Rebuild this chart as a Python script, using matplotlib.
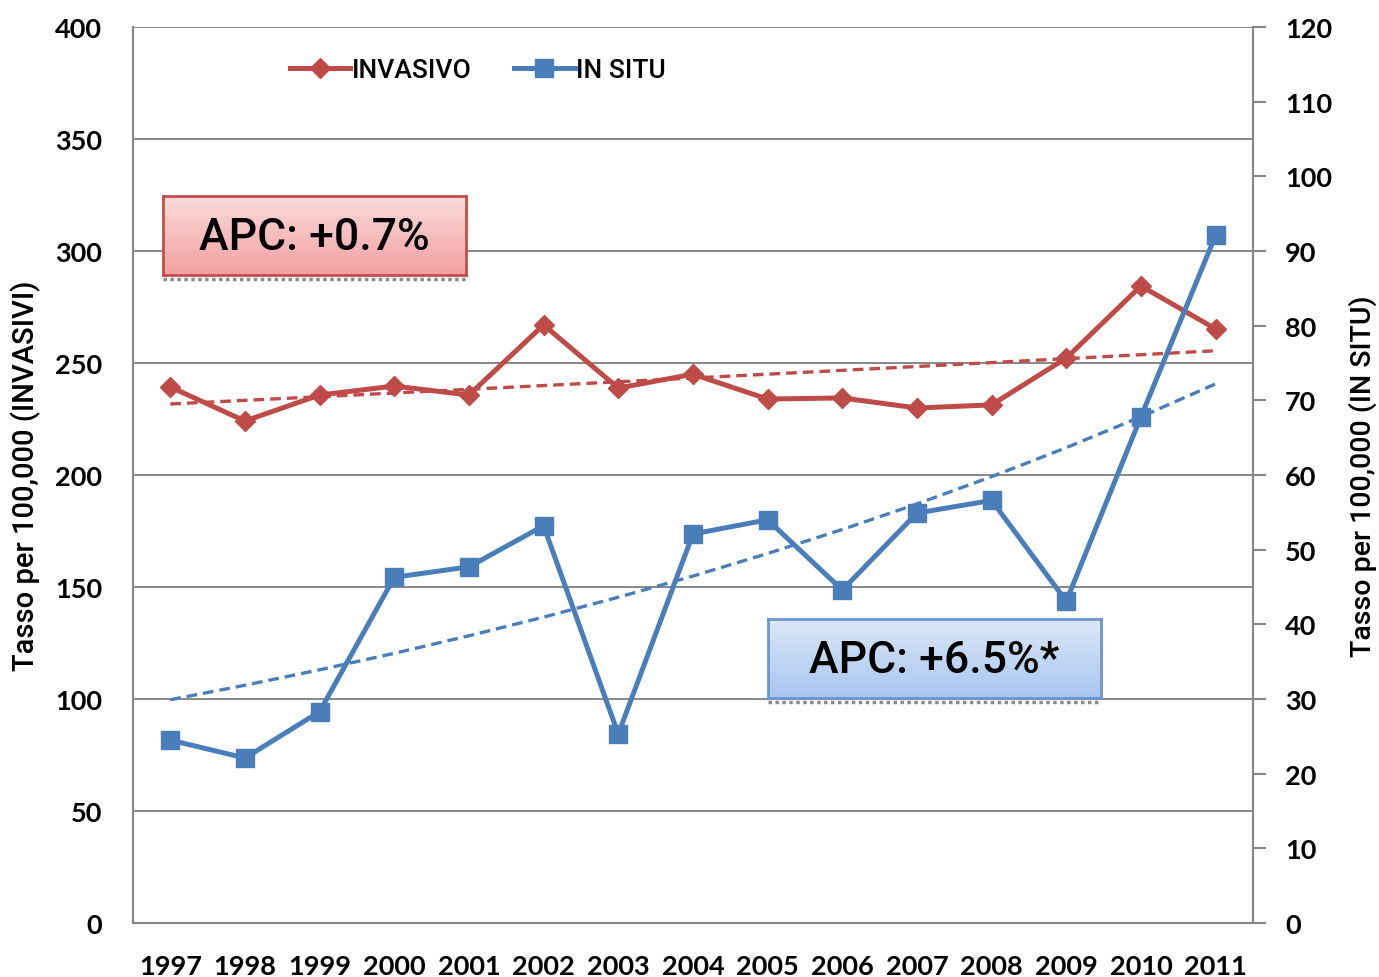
import numpy as np
import matplotlib
matplotlib.use("Agg")
import matplotlib.pyplot as plt
from matplotlib.lines import Line2D

years = ["1997", "1998", "1999", "2000", "2001", "2002", "2003", "2004",
         "2005", "2006", "2007", "2008", "2009", "2010", "2011"]
invasivo = [239.3, 224.1, 235.7, 239.7, 235.7, 267.0, 238.8, 245.0,
            233.9, 234.4, 229.9, 231.3, 252.2, 284.4, 265.2]
in_situ = [24.5, 22.1, 28.3, 46.3, 47.7, 53.2, 25.3, 52.1,
           54.0, 44.6, 54.9, 56.6, 43.1, 67.8, 92.1]
# fitted trend: value in 1997 and annual percent change
trend_start = [231.7, 29.9]
apc = [0.7, 6.5]
apc_labels = ["APC: +0.7%", "APC: +6.5%*"]

RED = "#BE4B48"
BLUE = "#4A7EBB"
GRID = "#878787"
NARROW = ["Liberation Sans Narrow", "Roboto", "DejaVu Sans"]
TICKF = ["Lato", "DejaVu Sans"]

x = np.arange(len(years))


def trend(start, pct):
    return start * (1 + pct / 100.0) ** x


fig = plt.figure(figsize=(13.79, 9.78), dpi=100)
ax = fig.add_axes([0.0964, 0.0552, 0.8122, 0.9162])
ax2 = ax.twinx()

ax.plot(x, trend(trend_start[0], apc[0]), color=RED, lw=2.4, ls=(0, (3.2, 1.8)), zorder=2)
ax.plot(x, invasivo, color=RED, lw=3.6, marker="D", ms=10, zorder=3)
ax2.plot(x, trend(trend_start[1], apc[1]), color=BLUE, lw=2.4, ls=(0, (3.2, 1.8)), zorder=2)
ax2.plot(x, in_situ, color=BLUE, lw=3.6, marker="s", ms=13, zorder=3)

ax.set_xlim(-0.5, len(years) - 0.5)
ax.set_ylim(0, 400)
ax2.set_ylim(0, 120)
ax.set_yticks(np.arange(0, 401, 50))
ax2.set_yticks(np.arange(0, 121, 10))
ax.set_xticks(x)
ax.set_xticklabels(years)
ax.yaxis.grid(True, color=GRID, lw=1.4)
ax.set_axisbelow(True)

for a in (ax, ax2):
    for s in a.spines.values():
        s.set_color(GRID)
        s.set_linewidth(1.5)
    a.spines["top"].set_visible(False)
ax2.spines["left"].set_visible(False)
ax2.spines["bottom"].set_visible(False)

ax.tick_params(axis="y", length=0, pad=22, labelsize=19.5)
ax.tick_params(axis="x", length=0, pad=22, labelsize=19.5)
ax2.tick_params(axis="y", length=9, width=1.5, color=GRID, pad=14, labelsize=19.5)
for lab in ax.get_xticklabels() + ax.get_yticklabels() + ax2.get_yticklabels():
    lab.set_family(TICKF)
    lab.set_weight("bold")

ax.set_ylabel("Tasso per 100,000 (INVASIVI)", family=NARROW, fontsize=21,
              weight="medium", labelpad=10)
ax2.set_ylabel("Tasso per 100,000 (IN SITU)", family=NARROW, fontsize=20.5,
               weight="medium", labelpad=12)

handles = [Line2D([], [], color=RED, lw=3.6, marker="D", ms=10),
           Line2D([], [], color=BLUE, lw=3.6, marker="s", ms=13)]
leg = ax.legend(handles, ["INVASIVO", "IN SITU"], loc="center left",
                bbox_to_anchor=(0.14, 0.952), ncol=2, frameon=False,
                borderpad=0, borderaxespad=0,
                handlelength=2.3, handletextpad=0.05, columnspacing=1.6,
                prop={"family": NARROW, "size": 19, "weight": "medium"})


# gradient APC boxes
def apc_box(rect, top, bottom, edge, text):
    bx = fig.add_axes(rect)
    grad = np.linspace(0, 1, 100)[:, None]
    c0 = np.array(matplotlib.colors.to_rgb(top))
    c1 = np.array(matplotlib.colors.to_rgb(bottom))
    img = c0[None, None, :] * (1 - grad[:, :, None]) + c1[None, None, :] * grad[:, :, None]
    bx.imshow(img, aspect="auto", extent=[0, 1, 0, 1])
    bx.set_xticks([])
    bx.set_yticks([])
    for s in bx.spines.values():
        s.set_color(edge)
        s.set_linewidth(2)
    bx.text(0.5, 0.48, text, ha="center", va="center", fontsize=32,
            family=NARROW, weight="medium", transform=bx.transAxes)
    l, b, w, h = rect
    fig.add_artist(Line2D([l, l + w], [b - 0.004, b - 0.004], color="#8a8a8a",
                          lw=2.5, ls=(0, (1, 1)), transform=fig.transFigure))


apc_box([0.1182, 0.7178, 0.2197, 0.0808], "#F9DCDC", "#F4A0A0", "#C0504D", apc_labels[0])
apc_box([0.5569, 0.2853, 0.2415, 0.0808], "#DDE8F7", "#A8C6F0", "#6A95CF", apc_labels[1])

fig.savefig("out.png", dpi=100)
